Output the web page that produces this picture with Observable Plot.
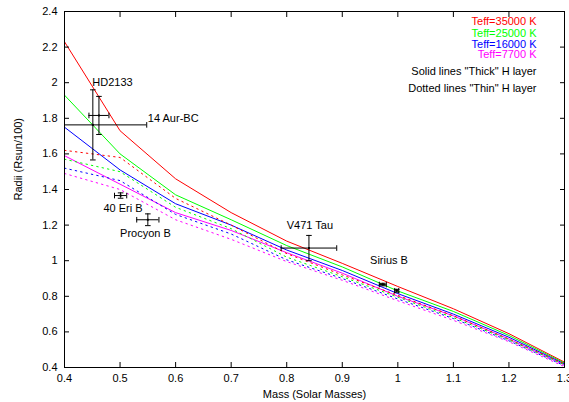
<!DOCTYPE html>
<html><head><meta charset="utf-8">
<script src="https://cdn.jsdelivr.net/npm/d3@7"></script>
<script src="https://cdn.jsdelivr.net/npm/@observablehq/plot@0.6"></script>
<style>body{margin:0;background:#fff}</style>
</head><body><div id="chart"></div>
<script>
// ---- data ----
const masses = [0.4, 0.5, 0.6, 0.7, 0.8, 0.9, 1.0, 1.1, 1.2, 1.3];
const thick35000 = [2.23, 1.73, 1.46, 1.27, 1.11, 0.985, 0.855, 0.73, 0.59, 0.43];
const thick25000 = [1.93, 1.60, 1.37, 1.23, 1.085, 0.965, 0.83, 0.715, 0.58, 0.425];
const thick16000 = [1.75, 1.51, 1.32, 1.20, 1.06, 0.945, 0.815, 0.70, 0.57, 0.42];
const thick7700  = [1.59, 1.43, 1.27, 1.17, 1.045, 0.93, 0.80, 0.69, 0.56, 0.415];
const thin35000  = [1.62, 1.58, 1.35, 1.20, 1.04, 0.92, 0.805, 0.69, 0.56, 0.42];
const thin25000  = [1.57, 1.50, 1.30, 1.18, 1.02, 0.91, 0.795, 0.68, 0.555, 0.415];
const thin16000  = [1.52, 1.45, 1.26, 1.15, 1.005, 0.90, 0.785, 0.675, 0.55, 0.41];
const thin7700   = [1.49, 1.40, 1.23, 1.12, 0.995, 0.89, 0.775, 0.665, 0.545, 0.405];

const starNames     = ["HD2133", "14 Aur-BC", "40 Eri B", "Procyon B", "V471 Tau", "Sirius B", "Sirius B"];
const starMass      = [0.462, 0.451, 0.501, 0.55, 0.84, 0.973, 0.998];
const starMassErr   = [0.018, 0.097, 0.011, 0.02, 0.05, 0.0063, 0.0036];
const starRadius    = [1.816, 1.763, 1.366, 1.23, 1.071, 0.866, 0.831];
const starRadiusErr = [0.107, 0.197, 0.015, 0.033, 0.071, 0.007, 0.008];

const labelText   = ["HD2133", "14 Aur-BC", "40 Eri B", "Procyon B", "V471 Tau", "Sirius B"];
const labelMass   = [0.45, 0.55, 0.47, 0.50, 0.80, 0.95];
const labelRadius = [2.0, 1.80, 1.295, 1.155, 1.20, 1.0];

const legendText = ["Teff=35000 K", "Teff=25000 K", "Teff=16000 K", "Teff=7700 K",
                    'Solid lines "Thick" H layer', 'Dotted lines "Thin" H layer'];

const xTickLabels = ["0.4","0.5","0.6","0.7","0.8","0.9","1","1.1","1.2","1.3"];
const yTickLabels = ["0.4","0.6","0.8","1","1.2","1.4","1.6","1.8","2","2.2","2.4"];

// ---- styling ----
const RED = "#ff0000", GREEN = "#00ff00", BLUE = "#0000ff", MAGENTA = "#ff00ff";
const seriesValues = [thick35000, thick25000, thick16000, thick7700, thin35000, thin25000, thin16000, thin7700];
const seriesColors = [RED, GREEN, BLUE, MAGENTA, RED, GREEN, BLUE, MAGENTA];
const seriesDotted = [false, false, false, false, true, true, true, true];
const legendColors = [RED, GREEN, BLUE, MAGENTA, "black", "black"];
const legendDy = [10, 21.5, 32.5, 43, 60, 76.5];

const xTicks = xTickLabels.map(Number);
const yTicks = yTickLabels.map(Number);
const fmtX = d => xTickLabels[xTicks.indexOf(d)];
const fmtY = d => yTickLabels[yTicks.indexOf(d)];

const stars = starNames.map((n, i) => ({name: n, m: starMass[i], me: starMassErr[i], r: starRadius[i], re: starRadiusErr[i]}));
const vCaps = stars.flatMap(s => [{m: s.m, r: s.r - s.re}, {m: s.m, r: s.r + s.re}]);
const hCaps = stars.flatMap(s => [{m: s.m - s.me, r: s.r}, {m: s.m + s.me, r: s.r}]);
const labels = labelText.map((t, i) => ({t, m: labelMass[i], r: labelRadius[i]}));

const hbar = {draw(ctx, size) { const w = Math.sqrt(size / Math.PI); ctx.moveTo(-w, 0); ctx.lineTo(w, 0); }};
const vbar = {draw(ctx, size) { const w = Math.sqrt(size / Math.PI); ctx.moveTo(0, -w); ctx.lineTo(0, w); }};

const lineMarks = seriesValues.map((vals, k) =>
  Plot.line(masses.map((m, i) => ({m, r: vals[i]})), {
    x: "m", y: "r", stroke: seriesColors[k], strokeWidth: 1,
    strokeDasharray: seriesDotted[k] ? "1.5,4" : null, clip: true
  })
);

const legendMarks = legendText.map((t, i) =>
  Plot.text([t], {text: d => d, frameAnchor: "top-right", dx: -28, dy: legendDy[i],
    textAnchor: "end", lineAnchor: "middle", fill: legendColors[i]})
);

const chart = Plot.plot({
  width: 569, height: 402,
  marginLeft: 64, marginRight: 5, marginTop: 11, marginBottom: 35,
  x: {domain: [0.4, 1.3]},
  y: {domain: [0.4, 2.4]},
  style: {fontFamily: "'Liberation Sans', Arial, sans-serif", fontSize: "11px", background: "white", color: "black", overflow: "hidden"},
  marks: [
    ...lineMarks,
    Plot.ruleY(stars, {y: "r", x1: d => d.m - d.me, x2: d => d.m + d.me, stroke: "black", strokeWidth: 1, clip: true}),
    Plot.ruleX(stars, {x: "m", y1: d => d.r - d.re, y2: d => d.r + d.re, stroke: "black", strokeWidth: 1, clip: true}),
    Plot.dot(vCaps, {x: "m", y: "r", symbol: hbar, r: 2.8, stroke: "black", fill: "none", strokeWidth: 1, clip: true}),
    Plot.dot(hCaps, {x: "m", y: "r", symbol: vbar, r: 2.8, stroke: "black", fill: "none", strokeWidth: 1, clip: true}),
    Plot.dot(stars, {x: "m", y: "r", symbol: "square", r: 1.1, fill: "black"}),
    Plot.text(labels, {x: "m", y: "r", text: "t", textAnchor: "start", lineAnchor: "middle", fill: "black"}),
    ...legendMarks,
    Plot.axisX(xTicks, {anchor: "bottom", tickSize: 5, dy: -5, fill: "none", label: null}),
    Plot.axisX(xTicks, {anchor: "top", tickSize: 5, dy: 5, fill: "none", label: null}),
    Plot.axisY(yTicks, {anchor: "left", tickSize: 5, dx: 5, fill: "none", label: null}),
    Plot.axisY(yTicks, {anchor: "right", tickSize: 5, dx: -5, fill: "none", label: null}),
    Plot.axisX(xTicks, {anchor: "bottom", tickSize: 0, tickPadding: 7, tickFormat: fmtX, label: null}),
    Plot.axisY(yTicks, {anchor: "left", tickSize: 0, tickPadding: 7, tickFormat: fmtY, label: null}),
    Plot.text(["Mass (Solar Masses)"], {text: d => d, frameAnchor: "bottom", dy: 27, lineAnchor: "middle"}),
    Plot.text(["Radii (Rsun/100)"], {text: d => d, frameAnchor: "left", dx: -46, dy: 11, rotate: -90, lineAnchor: "middle"}),
    Plot.frame({stroke: "black", strokeWidth: 1})
  ]
});
document.getElementById("chart").appendChild(chart);
</script>
</body></html>
